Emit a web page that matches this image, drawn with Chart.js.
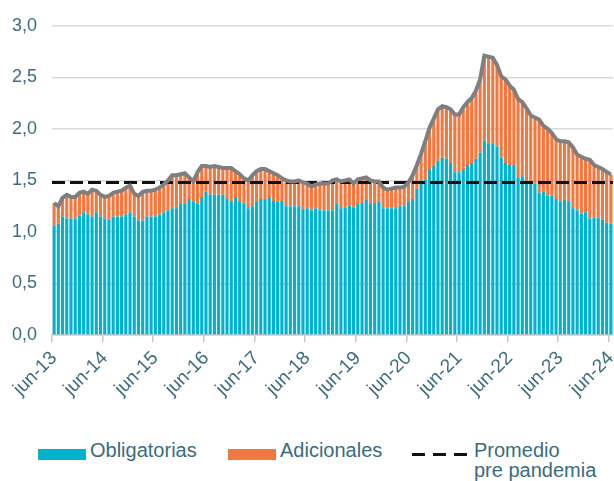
<!DOCTYPE html>
<html lang="es">
<head>
<meta charset="utf-8">
<title>Encaje: obligatorias y adicionales</title>
<script src="https://cdn.jsdelivr.net/npm/chart.js@4/dist/chart.umd.min.js"></script>
<style>
  html, body { margin: 0; padding: 0; background: #fff; overflow: hidden; }
  #wrap { position: relative; width: 614px; height: 481px; overflow: hidden; }
  #grafico { position: absolute; left: 0; top: 0; }
  .leyenda { position: absolute; font-family: "Liberation Sans", Arial, sans-serif; font-size: 20px; color: #3a6c7d; line-height: 20px; white-space: nowrap; }
  .caja { position: absolute; width: 48px; height: 11px; }
  .guiones { position: absolute; width: 55px; height: 3px;
    background: repeating-linear-gradient(to right, #111 0 13px, transparent 13px 21px); }
</style>
</head>
<body>
<div id="wrap">
  <canvas id="grafico" width="614" height="432"></canvas>
  <div class="caja" style="left:38px; top:449px; background:#00b2cb;"></div>
  <div class="leyenda" style="left:90px; top:440px;">Obligatorias</div>
  <div class="caja" style="left:228px; top:449px; background:#ef7940;"></div>
  <div class="leyenda" style="left:280px; top:440px;">Adicionales</div>
  <div class="guiones" style="left:412px; top:453px;"></div>
  <div class="leyenda" style="left:474px; top:440px;">Promedio<br>pre pandemia</div>
</div>
<script>
// meses (jun-13 a jun-24)
const meses = [
  'jun-13','jul-13','ago-13','sep-13','oct-13','nov-13','dic-13',
  'ene-14','feb-14','mar-14','abr-14','may-14','jun-14','jul-14','ago-14','sep-14','oct-14','nov-14','dic-14',
  'ene-15','feb-15','mar-15','abr-15','may-15','jun-15','jul-15','ago-15','sep-15','oct-15','nov-15','dic-15',
  'ene-16','feb-16','mar-16','abr-16','may-16','jun-16','jul-16','ago-16','sep-16','oct-16','nov-16','dic-16',
  'ene-17','feb-17','mar-17','abr-17','may-17','jun-17','jul-17','ago-17','sep-17','oct-17','nov-17','dic-17',
  'ene-18','feb-18','mar-18','abr-18','may-18','jun-18','jul-18','ago-18','sep-18','oct-18','nov-18','dic-18',
  'ene-19','feb-19','mar-19','abr-19','may-19','jun-19','jul-19','ago-19','sep-19','oct-19','nov-19','dic-19',
  'ene-20','feb-20','mar-20','abr-20','may-20','jun-20','jul-20','ago-20','sep-20','oct-20','nov-20','dic-20',
  'ene-21','feb-21','mar-21','abr-21','may-21','jun-21','jul-21','ago-21','sep-21','oct-21','nov-21','dic-21',
  'ene-22','feb-22','mar-22','abr-22','may-22','jun-22','jul-22','ago-22','sep-22','oct-22','nov-22','dic-22',
  'ene-23','feb-23','mar-23','abr-23','may-23','jun-23','jul-23','ago-23','sep-23','oct-23','nov-23','dic-23',
  'ene-24','feb-24','mar-24','abr-24','may-24','jun-24'
];

const obligatorias = [
  1.06,1.08,1.15,1.13,1.13,1.13,1.16,1.19,1.17,1.15,1.19,1.15,
  1.13,1.12,1.15,1.15,1.15,1.17,1.19,1.15,1.11,1.11,1.15,1.15,
  1.15,1.17,1.19,1.21,1.23,1.23,1.27,1.27,1.32,1.29,1.27,1.34,
  1.39,1.36,1.36,1.36,1.36,1.32,1.30,1.34,1.29,1.27,1.23,1.25,
  1.29,1.32,1.32,1.34,1.30,1.29,1.30,1.25,1.25,1.25,1.25,1.22,
  1.23,1.21,1.23,1.21,1.21,1.21,1.21,1.27,1.23,1.24,1.26,1.24,
  1.27,1.28,1.31,1.27,1.28,1.29,1.23,1.23,1.23,1.23,1.25,1.25,
  1.29,1.32,1.42,1.50,1.51,1.60,1.64,1.69,1.72,1.71,1.67,1.58,
  1.58,1.61,1.65,1.67,1.71,1.77,1.89,1.86,1.86,1.83,1.72,1.67,
  1.65,1.65,1.53,1.54,1.47,1.47,1.47,1.38,1.39,1.35,1.35,1.32,
  1.29,1.31,1.29,1.23,1.21,1.18,1.19,1.13,1.14,1.14,1.12,1.09,
  1.08
];

const adicionales = [
  0.22,0.17,0.18,0.23,0.21,0.21,0.22,0.20,0.20,0.26,0.21,0.21,
  0.21,0.23,0.23,0.24,0.25,0.26,0.26,0.22,0.24,0.28,0.25,0.25,
  0.26,0.26,0.27,0.29,0.32,0.32,0.29,0.30,0.21,0.20,0.31,0.30,
  0.25,0.27,0.28,0.27,0.26,0.30,0.32,0.25,0.27,0.25,0.27,0.30,
  0.30,0.29,0.29,0.25,0.27,0.26,0.22,0.25,0.24,0.24,0.25,0.26,
  0.24,0.23,0.23,0.26,0.26,0.26,0.29,0.24,0.26,0.26,0.25,0.23,
  0.24,0.24,0.22,0.23,0.21,0.20,0.20,0.18,0.19,0.20,0.18,0.19,
  0.19,0.23,0.23,0.26,0.37,0.41,0.46,0.50,0.50,0.50,0.52,0.56,
  0.56,0.60,0.61,0.63,0.66,0.71,0.82,0.84,0.83,0.79,0.79,0.81,
  0.77,0.73,0.76,0.72,0.73,0.66,0.64,0.71,0.64,0.65,0.61,0.58,
  0.59,0.57,0.58,0.59,0.54,0.55,0.52,0.57,0.51,0.49,0.49,0.49,
  0.48
];

const total = [
  1.28,1.25,1.33,1.36,1.34,1.34,1.38,1.39,1.37,1.41,1.40,1.36,
  1.34,1.35,1.38,1.39,1.40,1.43,1.45,1.37,1.35,1.39,1.40,1.40,
  1.41,1.43,1.46,1.50,1.55,1.55,1.56,1.57,1.53,1.49,1.58,1.64,
  1.64,1.63,1.64,1.63,1.62,1.62,1.62,1.59,1.56,1.52,1.50,1.55,
  1.59,1.61,1.61,1.59,1.57,1.55,1.52,1.50,1.49,1.49,1.50,1.48,
  1.47,1.44,1.46,1.47,1.47,1.47,1.50,1.51,1.49,1.50,1.51,1.47,
  1.51,1.52,1.53,1.50,1.49,1.49,1.43,1.41,1.42,1.43,1.43,1.44,
  1.48,1.55,1.65,1.76,1.88,2.01,2.10,2.19,2.22,2.21,2.19,2.14,
  2.14,2.21,2.26,2.30,2.37,2.48,2.71,2.70,2.69,2.62,2.51,2.48,
  2.42,2.38,2.29,2.26,2.20,2.13,2.11,2.09,2.03,2.00,1.96,1.90,
  1.88,1.88,1.87,1.82,1.75,1.73,1.71,1.70,1.65,1.63,1.61,1.58,
  1.56
];

// promedio pre pandemia
const promedioPrePandemia = 1.48;

const colorTexto = '#3a6c7d';

// linea punteada del promedio, dibujada justo antes de la linea total
const lineaPromedio = {
  id: 'lineaPromedio',
  beforeDatasetDraw(chart, args) {
    if (args.meta.type !== 'line') return;
    const { ctx, chartArea } = chart;
    const y = chart.scales.y.getPixelForValue(promedioPrePandemia);
    ctx.save();
    ctx.strokeStyle = '#111';
    ctx.lineWidth = 3;
    ctx.setLineDash([13, 5]);
    ctx.beginPath();
    ctx.moveTo(chartArea.left, y);
    ctx.lineTo(chartArea.right, y);
    ctx.stroke();
    ctx.restore();
  }
};

new Chart(document.getElementById('grafico'), {
  type: 'bar',
  data: {
    labels: meses,
    datasets: [
      {
        type: 'line',
        label: 'Total',
        data: total,
        borderColor: '#7f7f7f',
        borderWidth: 4,
        pointRadius: 0,
        tension: 0,
        order: 0
      },
      {
        label: 'Obligatorias',
        data: obligatorias,
        backgroundColor: '#00b2cb',
        barPercentage: 0.74,
        categoryPercentage: 1,
        order: 1
      },
      {
        label: 'Adicionales',
        data: adicionales,
        backgroundColor: '#ef7940',
        barPercentage: 0.74,
        categoryPercentage: 1,
        order: 2
      }
    ]
  },
  options: {
    responsive: false,
    animation: false,
    layout: { padding: { top: 25, right: 1, left: 0, bottom: 0 } },
    plugins: {
      legend: { display: false },
      tooltip: { enabled: false }
    },
    scales: {
      x: {
        stacked: true,
        afterFit(scale) {
          scale.height = 97;
          scale.paddingLeft = 0;
          scale.paddingRight = 0;
        },
        border: { display: true, color: '#c8c8c8', width: 1.5 },
        grid: {
          offset: true,
          drawOnChartArea: false,
          tickLength: 7,
          lineWidth: 1.5,
          color: (c) => (meses[c.index] && meses[c.index].startsWith('jun')) ? '#c8c8c8' : 'rgba(0,0,0,0)'
        },
        ticks: {
          autoSkip: false,
          minRotation: 45,
          maxRotation: 45,
          padding: 5,
          color: colorTexto,
          font: { family: '"Liberation Sans", Arial, sans-serif', size: 19 },
          callback: (v, i) => meses[i].startsWith('jun') ? meses[i] : ''
        }
      },
      y: {
        stacked: true,
        min: 0,
        max: 3,
        afterFit(scale) { scale.width = 52; },
        border: { display: false },
        grid: { color: '#d9d9d9', lineWidth: 1.5, drawTicks: false },
        ticks: {
          stepSize: 0.5,
          padding: 15,
          color: colorTexto,
          font: { family: '"Liberation Sans", Arial, sans-serif', size: 18 },
          callback: (v) => v.toFixed(1).replace('.', ',')
        }
      }
    }
  },
  plugins: [lineaPromedio]
});
</script>
</body>
</html>
